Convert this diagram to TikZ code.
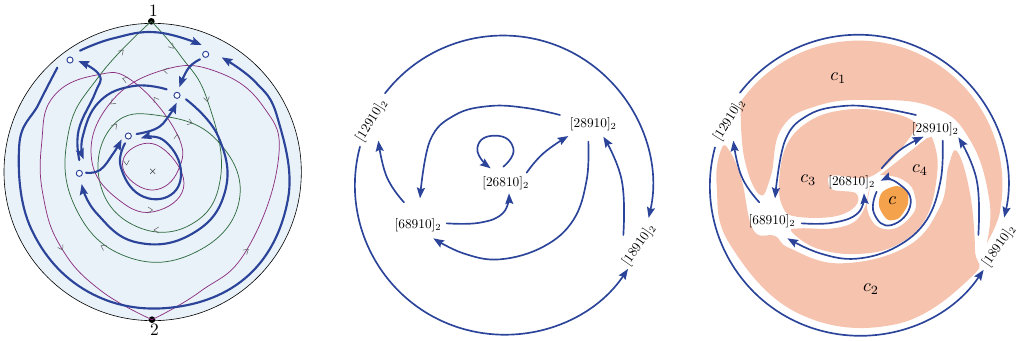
\documentclass[tikz,border=0pt]{standalone}
\usetikzlibrary{arrows.meta,calc}
\definecolor{flowblue}{HTML}{2B4499}
\definecolor{diskblue}{HTML}{E9F2F9}
\definecolor{arcgreen}{HTML}{2F6B3F}
\definecolor{arcpurple}{HTML}{8B2F80}
\definecolor{peach}{HTML}{F6C3AE}
\definecolor{deeporange}{HTML}{F5A24C}
\tikzset{
  flowbase/.style={draw=flowblue,line cap=round,-{Stealth[length=8pt,width=6pt,inset=1.2pt]}},
  flowthick/.style={flowbase,line width=1.6pt},
  flowthin/.style={flowbase,line width=1.25pt},
  greenarc/.style={draw=arcgreen,line width=.55pt},
  purplearc/.style={draw=arcpurple,line width=.55pt},
  tipline/.style={line width=.35pt,draw=black!65},
  hole/.style={circle,draw=flowblue,fill=white,line width=.7pt,minimum size=4.6pt,inner sep=0pt},
  statelabel/.style={inner sep=0pt,font=\normalsize},
  regionlabel/.style={inner sep=0pt,scale=1.35},
  sm/.style={smooth,tension=.75},
  rnd/.style={smooth,tension=.66},
  region/.style={fill=peach,draw=none},
}
\newcommand{\midtip}[3]{\draw[tipline,shift={(#1,#2)},rotate=#3] (-14,-9)--(0,0)--(-14,9);}
\begin{document}
\begin{tikzpicture}[x=.75pt,y=-.75pt]
\useasboundingbox (0,0) rectangle (1018,340);
% ---------- left panel
\begin{scope}[x=.25pt,y=-.25pt]
\node[circle,draw=black,fill=diskblue,line width=.45pt,minimum size=223pt,inner sep=0pt] (disk) at (458,516) {};
\coordinate (lc) at (462,516);
\node[circle,fill=black,minimum size=5pt,inner sep=0pt] (p1) at (454,64) {};
\node[circle,fill=black,minimum size=5pt,inner sep=0pt] (p2) at (456,959) {};
\node[scale=1.3,inner sep=0pt] (l1) at (460,31) {1};
\node[scale=1.3,inner sep=0pt] (l2) at (463,990) {2};
\node[inner sep=0pt,font=\footnotesize] (x) at (458,516) {$\times$};
\node[hole] (a) at (210,180) {};
\node[hole] (b) at (617,163) {};
\node[hole] (c) at (531,286) {};
\node[hole] (d) at (385,408) {};
\node[hole] (e) at (238,520) {};
% green
\draw[greenarc] plot[sm] coordinates {(p1) (300,225) (205,400) (225,620) (380,770) (590,755) (718,600) (650,420) (480,347) (340,375) (298,540) (400,675) (570,675) (662,530) (622,300) (540,165) (p1)};
% purple
\draw[purplearc] plot[sm] coordinates {(p2) (600,875) (740,750) (835,480) (790,320) (650,215) (490,210) (330,310) (275,480) (370,610) (480,630) (552,550) (480,440) (390,450) (375,520) (460,570) (535,510) (530,400) (400,245) (290,225) (160,290) (125,430) (130,590) (185,745) (300,870) (p2)};
\midtip{520}{145}{-50}\midtip{622}{305}{-78}\midtip{577}{370}{-20}\midtip{350}{372}{50}
\midtip{462}{690}{180}\midtip{303}{737}{150}\midtip{370}{150}{45}
\midtip{745}{748}{40}\midtip{490}{210}{170}\midtip{332}{312}{220}\midtip{458}{630}{0}
\midtip{380}{495}{-85}\midtip{532}{403}{85}\midtip{462}{292}{125}\midtip{368}{235}{160}\midtip{188}{750}{-60}
% blue
\draw[flowthick] plot[sm] coordinates {($(a)+(30,-28)$) (340,115) (470,97) ($(b)+(-12,-28)$)};
\draw[flowthick] plot[sm] coordinates {($(b)+(-17,15)$) (565,205) ($(c)+(7,-24)$)};
\draw[flowthick] plot[sm] coordinates {($(c)+(-31,-18)$) (400,258) (298,305) (248,410) ($(e)+(13,-42)$)};
\draw[flowthick] plot[sm] coordinates {($(e)+(0,-40)$) (236,390) (285,280) (298,225) ($(a)+(25,3)$)};
\draw[flowthick] plot[rnd] coordinates {($(a)+(-38,23)$) (116,312) ($(lc)+(191:412)$) ($(lc)+(155:406)$) ($(lc)+(119:410)$) ($(lc)+(83:410)$) ($(lc)+(47:420)$) ($(lc)+(11:410)$) ($(lc)+(-24:405)$) (765,245) ($(b)+(48,9)$)};
\draw[flowthick] plot[sm] coordinates {($(c)+(27,12)$) (655,410) (675,575) (575,702) (410,727) (290,640) ($(e)+(7,32)$)};
\draw[flowthick] plot[sm] coordinates {($(e)+(20,-2)$) (300,510) (340,460) ($(d)+(-20,10)$)};
\draw[flowthick] plot[sm] coordinates {($(d)+(25,-6)$) (470,385) (505,350) ($(c)+(-1,22)$)};
\draw[flowthick] plot[sm] coordinates {($(d)+(-10,22)$) (362,500) (420,585) (512,585) (542,505) (490,420) ($(d)+(37,7)$)};
\end{scope}
% ---------- middle panel
\begin{scope}[shift={(340,20)},x=.25pt,y=-.25pt]
\coordinate (mc) at (490,495);
\node[statelabel] (m26) at (497,490) {$[26810]_2$};
\node[statelabel] (m28) at (760,312) {$[28910]_2$};
\node[statelabel] (m68) at (234,614) {$[68910]_2$};
\node[statelabel,rotate=58] (m12) at (95,302) {$[12910]_2$};
\node[statelabel,rotate=55] (m18) at (897,675) {$[18910]_2$};
\draw[flowthin] ($(m12)+(40,-82)$) arc[start angle=-142.2,end angle=12.8,radius=448];
\draw[flowthin] ($(m12)+(-35,78)$) arc[start angle=195,end angle=34,radius=448];
\draw[flowthin] plot[sm] coordinates {($(m18)+(-47,-30)$) (845,480) ($(m28)+(30,38)$)};
\draw[flowthin] plot[rnd] coordinates {($(m28)+(-15,53)$) (740,480) (700,600) (610,680) (480,718) (370,700) ($(m68)+(46,41)$)};
\draw[flowthin] plot[sm] coordinates {($(m68)+(-42,-67)$) (140,470) ($(m12)+(20,60)$)};
\draw[flowthin] plot[rnd] coordinates {($(m28)+(-100,-27)$) (560,264) (450,258) (345,285) (270,362) ($(m68)+(6,-79)$)};
\draw[flowthin] plot[sm] coordinates {($(m68)+(86,-4)$) (420,608) (490,578) ($(m26)+(10,30)$)};
\draw[flowthin] plot[sm] coordinates {($(m26)+(63,-32)$) (610,400) ($(m28)+(-75,36)$)};
\draw[flowthin] plot[smooth,tension=1] coordinates {($(m26)+(-7,-50)$) (520,385) (465,347) (412,385) ($(m26)+(-45,-45)$)};
\end{scope}
% ---------- right panel
\begin{scope}[shift={(700,20)},x=.25pt,y=-.25pt]
\coordinate (rc) at (477,495);
\fill[region] ($(rc)+(-145:434)$) arc[start angle=-145,end angle=10,radius=432] .. controls (897,600) and (877,640) .. (860,670) -- plot[sm] coordinates {(860,670) (868,540) (810,360) (700,262) (510,240) (350,258) (245,325) (212,470) (178,523) (132,410) (122,245)} -- cycle;
\fill[region] plot[smooth cycle,tension=.7] coordinates {(65,385) (50,495) ($(rc)+(155:426)$) ($(rc)+(115:426)$) ($(rc)+(75:432)$) (815,770) (825,690) (810,520) (772,395) (745,440) (720,560) (620,680) (420,730) (270,685) (225,648) (160,630) (125,480) (90,395)};
\fill[region] plot[smooth cycle,tension=.65] coordinates {(638,302) (540,272) (430,270) (330,302) (260,375) (237,490) (250,565) (290,590) (400,590) (465,560) (468,520) (400,510) (385,488) (400,466) (520,466) (635,345)};
\fill[region] plot[rnd] coordinates {(695,350) (713,440) (680,590) (590,675) (470,702) (350,685) (275,635) (300,625) (400,625) (470,600) (503,540)} -- plot[smooth,tension=.85] coordinates {(510,500) (505,580) (560,628) (632,590) (645,530) (610,480) (540,465)} -- (680,355) -- cycle;
\fill[deeporange] plot[smooth cycle,tension=.9] coordinates {(538,535) (570,503) (610,505) (625,535) (612,575) (582,600) (550,585)};
\node[statelabel] (r26) at (455,487) {$[26810]_2$};
\node[statelabel] (r28) at (706,327) {$[28910]_2$};
\node[statelabel] (r68) at (216,603) {$[68910]_2$};
\node[statelabel,rotate=58] (r12) at (88,300) {$[12910]_2$};
\node[statelabel,rotate=55] (r18) at (897,678) {$[18910]_2$};
\node[regionlabel] (c1) at (415,175) {$c_1$};
\node[regionlabel] (c2) at (513,808) {$c_2$};
\node[regionlabel] (c3) at (325,480) {$c_3$};
\node[regionlabel] (c4) at (660,450) {$c_4$};
\node[regionlabel] (c0) at (577,543) {$c$};
\draw[flowthin] ($(r12)+(32,-82)$) arc[start angle=-142.2,end angle=12.8,radius=449];
\draw[flowthin] ($(r12)+(-43,82)$) arc[start angle=195,end angle=34,radius=449];
\draw[flowthin] plot[sm] coordinates {($(r18)+(-62,-33)$) (830,480) ($(r28)+(69,25)$)};
\draw[flowthin] plot[rnd] coordinates {($(r28)+(22,35)$) (722,480) (680,600) (590,680) (470,716) (360,700) ($(r68)+(46,52)$)};
\draw[flowthin] plot[sm] coordinates {($(r68)+(-38,-56)$) (125,470) ($(r12)+(12,62)$)};
\draw[flowthin] plot[rnd] coordinates {($(r28)+(-58,-42)$) (540,264) (430,258) (325,285) (255,362) ($(r68)+(9,-68)$)};
\draw[flowthin] plot[sm] coordinates {($(r68)+(89,7)$) (400,608) (475,578) ($(r26)+(37,33)$)};
\draw[flowthin] plot[sm] coordinates {($(r26)+(90,-42)$) (600,390) ($(r28)+(-36,23)$)};
\draw[flowthin] plot[smooth,tension=.9] coordinates {($(r26)+(75,28)$) (522,580) (575,615) (632,550) (590,487) ($(r26)+(87,-5)$)};
\end{scope}
\end{tikzpicture}
\end{document}
